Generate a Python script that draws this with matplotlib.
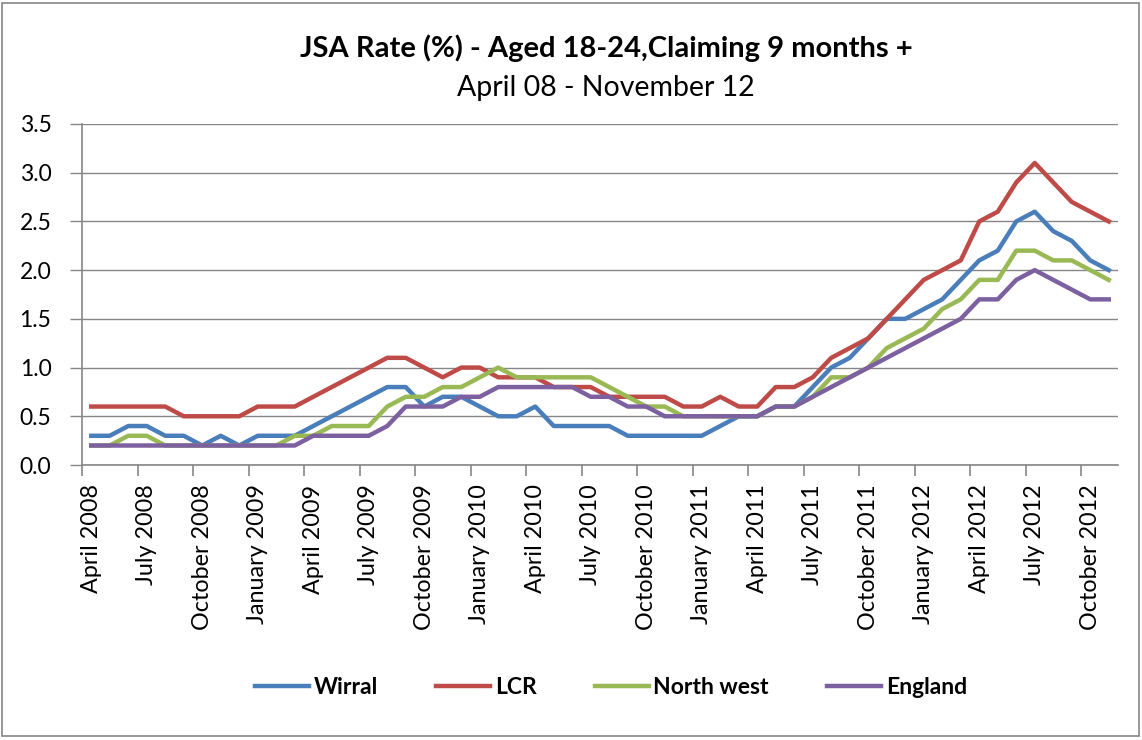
import matplotlib
matplotlib.use("Agg")
import matplotlib.pyplot as plt
import numpy as np
from matplotlib.ticker import FormatStrFormatter
from matplotlib.patches import Rectangle

plt.rcParams['font.family'] = ['Lato', 'DejaVu Sans']

# monthly JSA rate (%), April 2008 - November 2012
wirral = [0.3, 0.3, 0.4, 0.4, 0.3, 0.3, 0.2, 0.3, 0.2, 0.3, 0.3, 0.3,
          0.4, 0.5, 0.6, 0.7, 0.8, 0.8, 0.6, 0.7, 0.7, 0.6, 0.5, 0.5,
          0.6, 0.4, 0.4, 0.4, 0.4, 0.3, 0.3, 0.3, 0.3, 0.3, 0.4, 0.5,
          0.5, 0.6, 0.6, 0.8, 1.0, 1.1, 1.3, 1.5, 1.5, 1.6, 1.7, 1.9,
          2.1, 2.2, 2.5, 2.6, 2.4, 2.3, 2.1, 2.0]
lcr = [0.6, 0.6, 0.6, 0.6, 0.6, 0.5, 0.5, 0.5, 0.5, 0.6, 0.6, 0.6,
       0.7, 0.8, 0.9, 1.0, 1.1, 1.1, 1.0, 0.9, 1.0, 1.0, 0.9, 0.9,
       0.9, 0.8, 0.8, 0.8, 0.7, 0.7, 0.7, 0.7, 0.6, 0.6, 0.7, 0.6,
       0.6, 0.8, 0.8, 0.9, 1.1, 1.2, 1.3, 1.5, 1.7, 1.9, 2.0, 2.1,
       2.5, 2.6, 2.9, 3.1, 2.9, 2.7, 2.6, 2.5]
north_west = [0.2, 0.2, 0.3, 0.3, 0.2, 0.2, 0.2, 0.2, 0.2, 0.2, 0.2, 0.3,
              0.3, 0.4, 0.4, 0.4, 0.6, 0.7, 0.7, 0.8, 0.8, 0.9, 1.0, 0.9,
              0.9, 0.9, 0.9, 0.9, 0.8, 0.7, 0.6, 0.6, 0.5, 0.5, 0.5, 0.5,
              0.5, 0.6, 0.6, 0.7, 0.9, 0.9, 1.0, 1.2, 1.3, 1.4, 1.6, 1.7,
              1.9, 1.9, 2.2, 2.2, 2.1, 2.1, 2.0, 1.9]
england = [0.2, 0.2, 0.2, 0.2, 0.2, 0.2, 0.2, 0.2, 0.2, 0.2, 0.2, 0.2,
           0.3, 0.3, 0.3, 0.3, 0.4, 0.6, 0.6, 0.6, 0.7, 0.7, 0.8, 0.8,
           0.8, 0.8, 0.8, 0.7, 0.7, 0.6, 0.6, 0.5, 0.5, 0.5, 0.5, 0.5,
           0.5, 0.6, 0.6, 0.7, 0.8, 0.9, 1.0, 1.1, 1.2, 1.3, 1.4, 1.5,
           1.7, 1.7, 1.9, 2.0, 1.9, 1.8, 1.7, 1.7]

# every third month is labelled
tick_labels = ["April 2008", "July 2008", "October 2008",
               "January 2009", "April 2009", "July 2009", "October 2009",
               "January 2010", "April 2010", "July 2010", "October 2010",
               "January 2011", "April 2011", "July 2011", "October 2011",
               "January 2012", "April 2012", "July 2012", "October 2012"]

series = [("Wirral", wirral, "#4A7EBB"),
          ("LCR", lcr, "#BE4B48"),
          ("North west", north_west, "#98B954"),
          ("England", england, "#7D60A0")]

W, H = 1142, 740
fig = plt.figure(figsize=(W / 100, H / 100), dpi=100)
ax = fig.add_axes([82 / W, 1 - 465 / H, (1118 - 82) / W, (465 - 124) / H])

n = len(wirral)
x = np.arange(n)
for name, vals, col in series:
    ax.plot(x, vals, color=col, lw=3.2, label=name, solid_joinstyle='round')

grey = '#868686'
ax.set_xlim(-0.5, n - 0.5)
ax.set_ylim(0, 3.5)
ax.set_yticks(np.arange(0, 3.51, 0.5))
ax.yaxis.set_major_formatter(FormatStrFormatter('%.1f'))
ax.yaxis.grid(True, color=grey, lw=1.0)
ax.set_axisbelow(True)

ax.set_xticks(np.arange(-0.5, n, 3))
ax.set_xticklabels([])
ax.set_xticks(np.arange(0, n, 3), minor=True)
ax.set_xticklabels(tick_labels, minor=True, rotation=90, va='top', ha='center')
ax.tick_params(axis='x', which='major', length=8, width=1.2, color=grey, direction='out')
ax.tick_params(axis='x', which='minor', length=0, pad=14, labelsize=16.8, colors='black')
ax.tick_params(axis='y', length=9, width=1.0, color=grey, pad=13, labelsize=16.5)

for s in ['top', 'right']:
    ax.spines[s].set_visible(False)
for s in ['left', 'bottom']:
    ax.spines[s].set_color(grey)
    ax.spines[s].set_linewidth(1.2)

fig.text(606 / W, 1 - 48 / H, "JSA Rate (%) - Aged 18-24,Claiming 9 months +",
         ha='center', va='center', fontsize=21, fontweight='bold')
fig.text(606 / W, 1 - 88 / H, "April 08 - November 12",
         ha='center', va='center', fontsize=20.5)

fig.legend(loc='center', bbox_to_anchor=(611 / W, 1 - 688 / H), ncol=4,
           frameon=False, prop={'weight': 'bold', 'size': 16.5},
           handlelength=2.35, handletextpad=0.2, columnspacing=2.55)

fig.patches.append(Rectangle((2 / W, 4 / H), 1137 / W, 733 / H, transform=fig.transFigure,
                             fill=False, edgecolor=grey, lw=1.2))

fig.savefig("out.png", dpi=100)
